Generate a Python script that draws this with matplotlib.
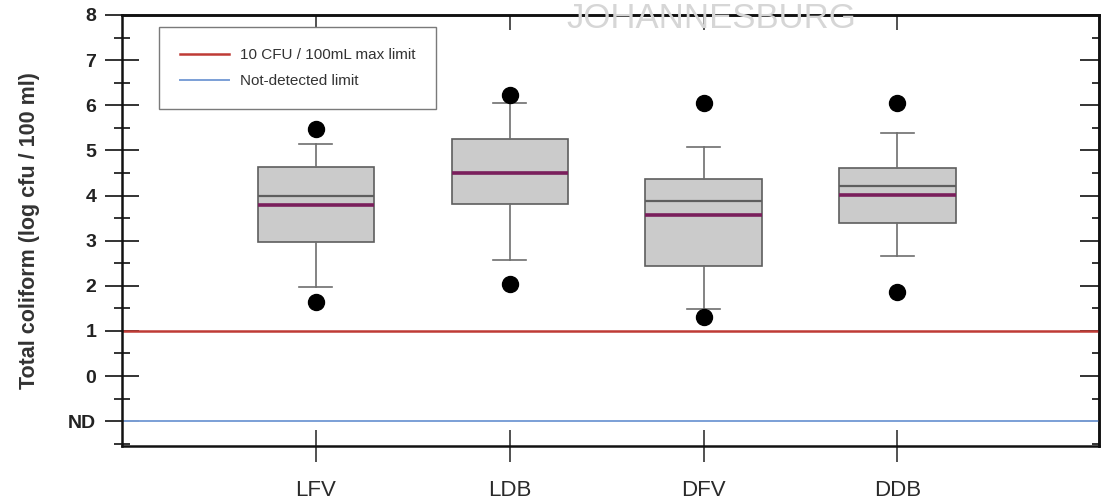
import numpy as np
import matplotlib.pyplot as plt
from matplotlib.ticker import MultipleLocator

plt.rcParams['font.family'] = ['Liberation Sans', 'DejaVu Sans']

# box statistics per site (log cfu / 100 ml)
sites = ["LFV", "LDB", "DFV", "DDB"]
q1 = [2.96, 3.82, 2.43, 3.39]
median = [3.98, 4.50, 3.87, 4.21]
q3 = [4.64, 5.25, 4.36, 4.62]
mean = [3.78, 4.49, 3.56, 4.02]
whisker_lo = [1.98, 2.56, 1.48, 2.67]
whisker_hi = [5.15, 6.06, 5.07, 5.39]
outliers = [[5.47, 1.64], [6.22, 2.04], [6.06, 1.31], [6.04, 1.87]]

max_limit = 1.0   # 10 CFU / 100 mL
nd_limit = -1.0   # not detected
ytick_vals = [-1, 0, 1, 2, 3, 4, 5, 6, 7, 8]
ytick_labels = ["ND", "0", "1", "2", "3", "4", "5", "6", "7", "8"]

fig = plt.figure(figsize=(11.01, 5.01), dpi=100)
ax = fig.add_axes([0.1108, 0.1098, 0.8874, 0.8603])

stats = []
for i in range(len(sites)):
    stats.append(dict(label=sites[i], q1=q1[i], med=median[i], q3=q3[i],
                      mean=mean[i], whislo=whisker_lo[i], whishi=whisker_hi[i],
                      fliers=outliers[i]))

pos = np.arange(1, len(sites) + 1)
ax.bxp(stats, positions=pos, widths=0.6, capwidths=0.17, patch_artist=True,
       showmeans=True, meanline=True,
       boxprops=dict(facecolor="#cbcbcb", edgecolor="#5e5e5e", lw=1.2),
       medianprops=dict(color="#5e5e5e", lw=1.6),
       meanprops=dict(color="#7a1f5c", lw=2.6, linestyle="-"),
       whiskerprops=dict(color="#6e6e6e", lw=1.2),
       capprops=dict(color="#6e6e6e", lw=1.2),
       flierprops=dict(marker="o", markerfacecolor="black", markeredgecolor="black",
                       markersize=11.5),
       zorder=3)

ax.axhline(max_limit, color="#bf3b35", lw=1.8, label="10 CFU / 100mL max limit", zorder=2)
ax.axhline(nd_limit, color="#7b9fd6", lw=1.4, label="Not-detected limit", zorder=2)

ax.set_xlim(0, 5.04)
ax.set_ylim(-1.55, 8)
ax.set_xticks(pos)
ax.set_xticklabels(sites, fontsize=16, color="#2a2a2a")
ax.set_yticks(ytick_vals)
ax.set_yticklabels(ytick_labels, fontsize=14, fontweight='bold', color="#222222")
ax.yaxis.set_minor_locator(MultipleLocator(0.5))

for s in ax.spines.values():
    s.set_linewidth(1.8)
    s.set_color("#111111")

ax.tick_params(axis='y', which='major', direction='inout', length=25, width=1.4,
               color="#333333", pad=6)
ax.tick_params(axis='y', which='minor', direction='inout', length=12, width=1.4,
               color="#333333")
ax.tick_params(axis='x', which='major', direction='inout', length=23, width=1.2,
               color="#333333", pad=13)
ax.tick_params(axis='x', which='minor', bottom=False)

# inward ticks on the right and top edges
ax_r = ax.secondary_yaxis('right')
ax_r.set_yticks(ytick_vals)
ax_r.yaxis.set_minor_locator(MultipleLocator(0.5))
ax_r.tick_params(which='major', direction='in', length=14, width=1.4, color="#333333",
                 labelright=False)
ax_r.tick_params(which='minor', direction='in', length=5, width=1.4, color="#333333")
ax_r.spines['right'].set_linewidth(1.8)

ax_t = ax.secondary_xaxis('top')
ax_t.set_xticks(pos)
ax_t.tick_params(which='major', direction='in', length=11, width=1.2, color="#333333",
                 labeltop=False)
ax_t.tick_params(which='minor', top=False)
ax_t.spines['top'].set_linewidth(1.8)

ax.set_ylabel("Total coliform (log cfu / 100 ml)", fontsize=15.5, fontweight='bold',
              color="#333333", labelpad=20)

leg = ax.legend(loc="upper left", bbox_to_anchor=(0.038, 0.971), fontsize=11,
                handlelength=3.2, handletextpad=0.75, labelspacing=0.8,
                borderpad=1.35, borderaxespad=0, fancybox=False, framealpha=1)
leg.get_frame().set_edgecolor("#7a7a7a")
leg.get_frame().set_linewidth(1.0)
for txt in leg.get_texts():
    txt.set_color("#333333")

fig.text(0.646, 0.996, "JOHANNESBURG", fontsize=25, color="#d6d6d6",
         ha="center", va="top", zorder=0)

fig.savefig("out.png", dpi=100)
